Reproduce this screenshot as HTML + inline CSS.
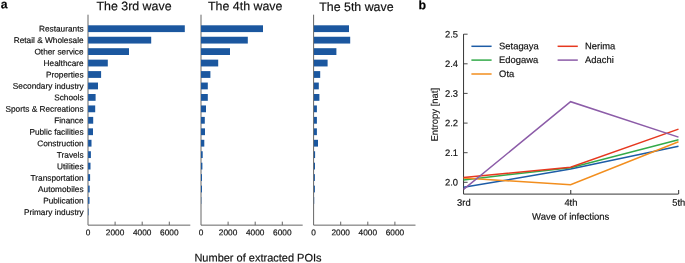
<!DOCTYPE html>
<html><head><meta charset="utf-8"><title>figure</title>
<style>
html,body{margin:0;padding:0;background:#fff;}
svg{display:block;font-family:"Liberation Sans",Arial,Helvetica,sans-serif;}
</style></head><body>
<svg width="685" height="263" viewBox="0 0 685 263">
<rect width="685" height="263" fill="#ffffff"/>
<path d="M88.0 14.7 V225.15 H190.3" fill="none" stroke="#666" stroke-width="1"/>
<rect x="88.1" y="25.30" width="96.7" height="6.8" fill="#1b579f"/>
<rect x="88.1" y="36.75" width="63.1" height="6.8" fill="#1b579f"/>
<rect x="88.1" y="48.20" width="40.9" height="6.8" fill="#1b579f"/>
<rect x="88.1" y="59.65" width="19.7" height="6.8" fill="#1b579f"/>
<rect x="88.1" y="71.10" width="13.0" height="6.8" fill="#1b579f"/>
<rect x="88.1" y="82.55" width="9.9" height="6.8" fill="#1b579f"/>
<rect x="88.1" y="94.00" width="7.5" height="6.8" fill="#1b579f"/>
<rect x="88.1" y="105.45" width="7.1" height="6.8" fill="#1b579f"/>
<rect x="88.1" y="116.90" width="5.1" height="6.8" fill="#1b579f"/>
<rect x="88.1" y="128.35" width="4.9" height="6.8" fill="#1b579f"/>
<rect x="88.1" y="139.80" width="3.4" height="6.8" fill="#1b579f"/>
<rect x="88.1" y="151.25" width="2.8" height="6.8" fill="#1b579f"/>
<rect x="88.1" y="162.70" width="2.4" height="6.8" fill="#1b579f"/>
<rect x="88.1" y="174.15" width="2.0" height="6.8" fill="#1b579f"/>
<rect x="88.1" y="185.60" width="1.6" height="6.8" fill="#1b579f"/>
<rect x="88.1" y="197.05" width="1.4" height="6.8" fill="#1b579f"/>
<rect x="88.1" y="208.50" width="0.5" height="6.8" fill="#1b579f"/>
<path d="M115.1 225.15 v-3.5" stroke="#666" stroke-width="1"/>
<path d="M142.2 225.15 v-3.5" stroke="#666" stroke-width="1"/>
<path d="M169.3 225.15 v-3.5" stroke="#666" stroke-width="1"/>
<path d="M201.0 14.7 V225.15 H302.7" fill="none" stroke="#666" stroke-width="1"/>
<rect x="201.0" y="25.30" width="62.0" height="6.8" fill="#1b579f"/>
<rect x="201.0" y="36.75" width="46.8" height="6.8" fill="#1b579f"/>
<rect x="201.0" y="48.20" width="29.0" height="6.8" fill="#1b579f"/>
<rect x="201.0" y="59.65" width="17.2" height="6.8" fill="#1b579f"/>
<rect x="201.0" y="71.10" width="9.4" height="6.8" fill="#1b579f"/>
<rect x="201.0" y="82.55" width="6.8" height="6.8" fill="#1b579f"/>
<rect x="201.0" y="94.00" width="6.8" height="6.8" fill="#1b579f"/>
<rect x="201.0" y="105.45" width="5.0" height="6.8" fill="#1b579f"/>
<rect x="201.0" y="116.90" width="3.8" height="6.8" fill="#1b579f"/>
<rect x="201.0" y="128.35" width="4.0" height="6.8" fill="#1b579f"/>
<rect x="201.0" y="139.80" width="3.3" height="6.8" fill="#1b579f"/>
<rect x="201.0" y="151.25" width="1.7" height="6.8" fill="#1b579f"/>
<rect x="201.0" y="162.70" width="1.4" height="6.8" fill="#1b579f"/>
<rect x="201.0" y="174.15" width="1.0" height="6.8" fill="#1b579f"/>
<rect x="201.0" y="185.60" width="1.0" height="6.8" fill="#1b579f"/>
<rect x="201.0" y="197.05" width="0.3" height="6.8" fill="#1b579f"/>
<path d="M228.1 225.15 v-3.5" stroke="#666" stroke-width="1"/>
<path d="M255.2 225.15 v-3.5" stroke="#666" stroke-width="1"/>
<path d="M282.3 225.15 v-3.5" stroke="#666" stroke-width="1"/>
<path d="M313.6 14.7 V225.15 H415.5" fill="none" stroke="#666" stroke-width="1"/>
<rect x="313.9" y="25.30" width="35.1" height="6.8" fill="#1b579f"/>
<rect x="313.9" y="36.75" width="36.3" height="6.8" fill="#1b579f"/>
<rect x="313.9" y="48.20" width="22.5" height="6.8" fill="#1b579f"/>
<rect x="313.9" y="59.65" width="13.7" height="6.8" fill="#1b579f"/>
<rect x="313.9" y="71.10" width="6.3" height="6.8" fill="#1b579f"/>
<rect x="313.9" y="82.55" width="4.9" height="6.8" fill="#1b579f"/>
<rect x="313.9" y="94.00" width="5.5" height="6.8" fill="#1b579f"/>
<rect x="313.9" y="105.45" width="3.0" height="6.8" fill="#1b579f"/>
<rect x="313.9" y="116.90" width="3.0" height="6.8" fill="#1b579f"/>
<rect x="313.9" y="128.35" width="3.0" height="6.8" fill="#1b579f"/>
<rect x="313.9" y="139.80" width="4.1" height="6.8" fill="#1b579f"/>
<rect x="313.9" y="151.25" width="1.2" height="6.8" fill="#1b579f"/>
<rect x="313.9" y="162.70" width="1.1" height="6.8" fill="#1b579f"/>
<rect x="313.9" y="174.15" width="1.0" height="6.8" fill="#1b579f"/>
<rect x="313.9" y="185.60" width="1.0" height="6.8" fill="#1b579f"/>
<rect x="313.9" y="197.05" width="0.3" height="6.8" fill="#1b579f"/>
<path d="M340.7 225.15 v-3.5" stroke="#666" stroke-width="1"/>
<path d="M367.8 225.15 v-3.5" stroke="#666" stroke-width="1"/>
<path d="M394.9 225.15 v-3.5" stroke="#666" stroke-width="1"/>
<path d="M463.55 34.1 V194.1 H678.5" fill="none" stroke="#363636" stroke-width="1"/>
<path d="M463.6 182.3 h4" stroke="#363636" stroke-width="0.9"/>
<path d="M463.6 152.7 h4" stroke="#363636" stroke-width="0.9"/>
<path d="M463.6 123.1 h4" stroke="#363636" stroke-width="0.9"/>
<path d="M463.6 93.4 h4" stroke="#363636" stroke-width="0.9"/>
<path d="M463.6 63.8 h4" stroke="#363636" stroke-width="0.9"/>
<path d="M463.6 34.2 h4" stroke="#363636" stroke-width="0.9"/>
<path d="M570.75 194.1 v-4" stroke="#363636" stroke-width="1.05"/>
<path d="M678.65 194.1 v-4" stroke="#363636" stroke-width="1.05"/>
<polyline points="463.6,187.3 570.6,169.1 678.5,146.2" fill="none" stroke="#1d5ca6" stroke-width="1.5" stroke-linejoin="miter"/>
<polyline points="463.6,179.9 570.6,167.7 678.5,139.8" fill="none" stroke="#33aa4a" stroke-width="1.5" stroke-linejoin="miter"/>
<polyline points="463.6,177.9 570.6,184.8 678.5,141.8" fill="none" stroke="#f28e1e" stroke-width="1.5" stroke-linejoin="miter"/>
<polyline points="463.6,177.4 570.6,167.2 678.5,129.1" fill="none" stroke="#e6381f" stroke-width="1.5" stroke-linejoin="miter"/>
<polyline points="463.6,189.4 570.6,101.7 678.5,137.1" fill="none" stroke="#8c5ca8" stroke-width="1.5" stroke-linejoin="miter"/>
<path d="M471.4 46.3 h20.2" stroke="#1d5ca6" stroke-width="1.5"/>
<path d="M471.4 60.1 h20.2" stroke="#33aa4a" stroke-width="1.5"/>
<path d="M471.4 74.0 h20.2" stroke="#f28e1e" stroke-width="1.5"/>
<path d="M557.6 46.3 h20.2" stroke="#e6381f" stroke-width="1.5"/>
<path d="M557.6 60.1 h20.2" stroke="#8c5ca8" stroke-width="1.5"/>
<g style="filter:grayscale(1)" stroke="#111" stroke-width="0.18">
<text transform="rotate(0.03 0.8 8.3)" x="0.8" y="8.3" font-size="12.2" font-weight="bold" fill="#000">a</text>
<text transform="rotate(0.03 418.6 9.2)" x="418.6" y="9.2" font-size="12.4" font-weight="bold" fill="#000">b</text>
<text transform="rotate(0.03 83.6 31.55)" x="83.6" y="31.55" font-size="8.28" text-anchor="end" fill="#111">Restaurants</text>
<text transform="rotate(0.03 83.6 43.02)" x="83.6" y="43.02" font-size="8.28" text-anchor="end" fill="#111">Retail &amp; Wholesale</text>
<text transform="rotate(0.03 83.6 54.49)" x="83.6" y="54.49" font-size="8.28" text-anchor="end" fill="#111">Other service</text>
<text transform="rotate(0.03 83.6 65.96)" x="83.6" y="65.96" font-size="8.28" text-anchor="end" fill="#111">Healthcare</text>
<text transform="rotate(0.03 83.6 77.43)" x="83.6" y="77.43" font-size="8.28" text-anchor="end" fill="#111">Properties</text>
<text transform="rotate(0.03 83.6 88.90)" x="83.6" y="88.90" font-size="8.28" text-anchor="end" fill="#111">Secondary industry</text>
<text transform="rotate(0.03 83.6 100.37)" x="83.6" y="100.37" font-size="8.28" text-anchor="end" fill="#111">Schools</text>
<text transform="rotate(0.03 83.6 111.84)" x="83.6" y="111.84" font-size="8.28" text-anchor="end" fill="#111">Sports &amp; Recreations</text>
<text transform="rotate(0.03 83.6 123.31)" x="83.6" y="123.31" font-size="8.28" text-anchor="end" fill="#111">Finance</text>
<text transform="rotate(0.03 83.6 134.78)" x="83.6" y="134.78" font-size="8.28" text-anchor="end" fill="#111">Public facilities</text>
<text transform="rotate(0.03 83.6 146.25)" x="83.6" y="146.25" font-size="8.28" text-anchor="end" fill="#111">Construction</text>
<text transform="rotate(0.03 83.6 157.72)" x="83.6" y="157.72" font-size="8.28" text-anchor="end" fill="#111">Travels</text>
<text transform="rotate(0.03 83.6 169.19)" x="83.6" y="169.19" font-size="8.28" text-anchor="end" fill="#111">Utilities</text>
<text transform="rotate(0.03 83.6 180.66)" x="83.6" y="180.66" font-size="8.28" text-anchor="end" fill="#111">Transportation</text>
<text transform="rotate(0.03 83.6 192.13)" x="83.6" y="192.13" font-size="8.28" text-anchor="end" fill="#111">Automobiles</text>
<text transform="rotate(0.03 83.6 203.60)" x="83.6" y="203.60" font-size="8.28" text-anchor="end" fill="#111">Publication</text>
<text transform="rotate(0.03 83.6 215.07)" x="83.6" y="215.07" font-size="8.28" text-anchor="end" fill="#111">Primary industry</text>
<text transform="rotate(0.03 134.0 10.15)" x="134.0" y="10.15" font-size="12.4" text-anchor="middle" fill="#111">The 3rd wave</text>
<text transform="rotate(0.03 88.0 235.2)" x="88.0" y="235.2" font-size="8.3" text-anchor="middle" fill="#111">0</text>
<text transform="rotate(0.03 115.1 235.2)" x="115.1" y="235.2" font-size="8.3" text-anchor="middle" fill="#111">2000</text>
<text transform="rotate(0.03 142.2 235.2)" x="142.2" y="235.2" font-size="8.3" text-anchor="middle" fill="#111">4000</text>
<text transform="rotate(0.03 169.3 235.2)" x="169.3" y="235.2" font-size="8.3" text-anchor="middle" fill="#111">6000</text>
<text transform="rotate(0.03 245.2 10.25)" x="245.2" y="10.25" font-size="12.4" text-anchor="middle" fill="#111">The 4th wave</text>
<text transform="rotate(0.03 201.0 235.2)" x="201.0" y="235.2" font-size="8.3" text-anchor="middle" fill="#111">0</text>
<text transform="rotate(0.03 228.1 235.2)" x="228.1" y="235.2" font-size="8.3" text-anchor="middle" fill="#111">2000</text>
<text transform="rotate(0.03 255.2 235.2)" x="255.2" y="235.2" font-size="8.3" text-anchor="middle" fill="#111">4000</text>
<text transform="rotate(0.03 282.3 235.2)" x="282.3" y="235.2" font-size="8.3" text-anchor="middle" fill="#111">6000</text>
<text transform="rotate(0.03 356.4 11.0)" x="356.4" y="11.0" font-size="12.4" text-anchor="middle" fill="#111">The 5th wave</text>
<text transform="rotate(0.03 313.6 235.2)" x="313.6" y="235.2" font-size="8.3" text-anchor="middle" fill="#111">0</text>
<text transform="rotate(0.03 340.7 235.2)" x="340.7" y="235.2" font-size="8.3" text-anchor="middle" fill="#111">2000</text>
<text transform="rotate(0.03 367.8 235.2)" x="367.8" y="235.2" font-size="8.3" text-anchor="middle" fill="#111">4000</text>
<text transform="rotate(0.03 394.9 235.2)" x="394.9" y="235.2" font-size="8.3" text-anchor="middle" fill="#111">6000</text>
<text transform="rotate(0.03 258 261.6)" x="258" y="261.6" font-size="11" text-anchor="middle" fill="#111">Number of extracted POIs</text>
<text transform="rotate(0.03 458.0 185.55)" x="458.0" y="185.55" font-size="9.4" text-anchor="end" fill="#111">2.0</text>
<text transform="rotate(0.03 458.0 155.93)" x="458.0" y="155.93" font-size="9.4" text-anchor="end" fill="#111">2.1</text>
<text transform="rotate(0.03 458.0 126.31)" x="458.0" y="126.31" font-size="9.4" text-anchor="end" fill="#111">2.2</text>
<text transform="rotate(0.03 458.0 96.69)" x="458.0" y="96.69" font-size="9.4" text-anchor="end" fill="#111">2.3</text>
<text transform="rotate(0.03 458.0 67.07)" x="458.0" y="67.07" font-size="9.4" text-anchor="end" fill="#111">2.4</text>
<text transform="rotate(0.03 458.0 37.45)" x="458.0" y="37.45" font-size="9.4" text-anchor="end" fill="#111">2.5</text>
<text transform="rotate(0.03 463.9 205.7)" x="463.9" y="205.7" font-size="9.4" text-anchor="middle" fill="#111">3rd</text>
<text transform="rotate(0.03 570.9 205.7)" x="570.9" y="205.7" font-size="9.4" text-anchor="middle" fill="#111">4th</text>
<text transform="rotate(0.03 678.8 205.7)" x="678.8" y="205.7" font-size="9.4" text-anchor="middle" fill="#111">5th</text>
<text transform="rotate(0.03 570.7 219.8)" x="570.7" y="219.8" font-size="9.5" text-anchor="middle" fill="#111">Wave of infections</text>
<text transform="translate(437.8,114.7) rotate(-89.97)" font-size="9.45" text-anchor="middle" fill="#111">Entropy [nat]</text>
<text transform="rotate(0.03 499.1 49.3)" x="499.1" y="49.3" font-size="9.4" fill="#111">Setagaya</text>
<text transform="rotate(0.03 499.1 63.1)" x="499.1" y="63.1" font-size="9.4" fill="#111">Edogawa</text>
<text transform="rotate(0.03 499.1 77.0)" x="499.1" y="77.0" font-size="9.4" fill="#111">Ota</text>
<text transform="rotate(0.03 585.1 49.3)" x="585.1" y="49.3" font-size="9.4" fill="#111">Nerima</text>
<text transform="rotate(0.03 585.1 63.1)" x="585.1" y="63.1" font-size="9.4" fill="#111">Adachi</text>
</g>
</svg>
</body></html>
